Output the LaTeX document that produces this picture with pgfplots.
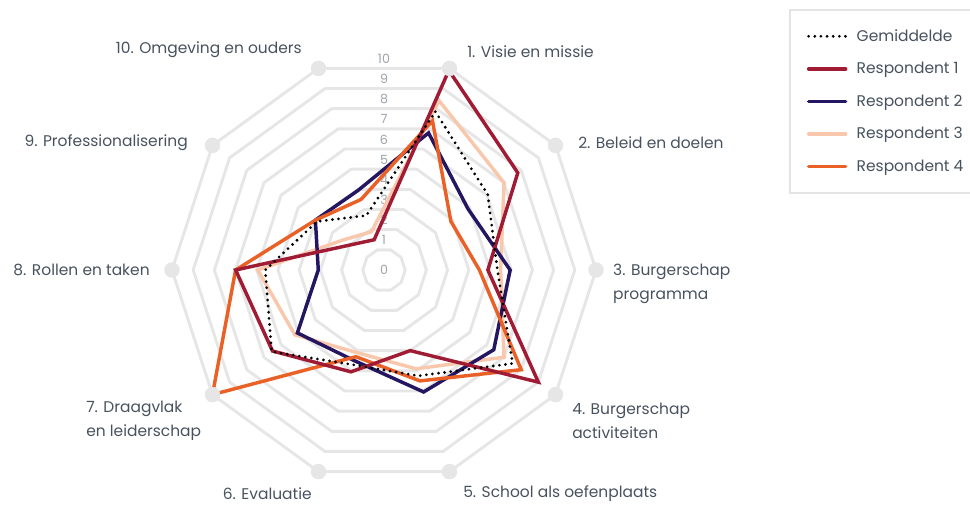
\documentclass[border=0pt]{standalone}
\usepackage{pgfplots}
\usepackage{pgfplotstable}
\pgfplotsset{compat=1.18}
\usepackage{fontspec}
\setmainfont{Poppins}
\definecolor{r1}{RGB}{160,27,52}
\definecolor{r2}{RGB}{36,22,96}
\definecolor{r3}{RGB}{249,199,172}
\definecolor{r4}{RGB}{234,97,40}
\definecolor{ring}{RGB}{230,230,230}
\definecolor{txt}{RGB}{72,82,94}
\definecolor{scl}{RGB}{158,164,170}
\definecolor{lgd}{RGB}{228,228,228}

\pgfplotstableread{
ang avg  r1   r2   r3   r4
72  7.85 9.9  6.8  8.4  7.4
36  6.05 7.8  4.9  7.0  3.9
0   5.35 4.9  5.95 5.5  4.5
-36 7.5  9.0  6.4  7.0  8.0
-72 5.25 4.0  6.05 4.9  5.5
-108 4.7 5.05 4.5  4.1  4.3
-144 6.55 6.5 5.05 5.2  10.0
180 5.6  7.0  3.1  5.95 7.0
144 3.9  2.0  4.0  2.4  4.0
108 2.7  1.5  3.95 1.9  3.5
}\data

\pgfplotsset{
  avgst/.style={black, line width=2.3pt, dash pattern=on 0pt off 4.6pt, line cap=round},
  r1st/.style={r1, line width=2.6pt},
  r2st/.style={r2, line width=2.6pt},
  r3st/.style={r3, line width=2.6pt},
  r4st/.style={r4, line width=2.6pt},
}
\newcommand{\lab}{\fontsize{11.6}{18}\selectfont}

\begin{document}
\begin{tikzpicture}
\begin{axis}[
  x=15.9pt, y=15.9pt,
  xmin=-18.113, xmax=27.642, ymin=-11.038, ymax=12.736,
  hide axis, clip=false,
  legend style={at={(axis cs:19.10,12.31)}, anchor=north west, draw=lgd, line width=1.5pt,
    inner xsep=12.75pt, inner ysep=7.5pt, font=\lab, text=txt, row sep=0pt, column sep=0pt,
    nodes={minimum height=24.4pt, inner xsep=7pt, inner ysep=0pt, text=txt}},
  legend cell align=left,
  legend image code/.code={\draw[#1, line cap=round] (0pt,0pt) -- (27.75pt,0pt);},
]
\coordinate (bl) at (rel axis cs:0,0);
\coordinate (tr) at (rel axis cs:1,1);

% grid rings
\pgfplotsinvokeforeach{1,...,10}{
  \addplot[ring, line width=2.2pt, line join=round, data cs=polar, forget plot]
    coordinates {(0,#1)(36,#1)(72,#1)(108,#1)(144,#1)(180,#1)(216,#1)(252,#1)(288,#1)(324,#1)} -- cycle;
}
\addplot[only marks, mark=*, mark size=5.6pt, ring, data cs=polar, forget plot]
  coordinates {(0,10)(36,10)(72,10)(108,10)(144,10)(180,10)(216,10)(252,10)(288,10)(324,10)};

% scale labels
\node[scl, font=\fontsize{9.5}{10}\selectfont] at (axis cs:0,0) {0};
\pgfplotsinvokeforeach{1,...,10}{
  \node[scl, font=\fontsize{9.5}{10}\selectfont] at (axis cs:0,{(30+20.1*(#1-1))/21.2}) {#1};
}

% legend images
\addlegendimage{avgst}
\addlegendentry{Gemiddelde}
\addlegendimage{r1st}
\addlegendentry{Respondent 1}
\addlegendimage{r2st}
\addlegendentry{Respondent 2}
\addlegendimage{r3st}
\addlegendentry{Respondent 3}
\addlegendimage{r4st}
\addlegendentry{Respondent 4}

% series
\addplot[r3st, data cs=polar, forget plot] table[x=ang, y=r3] {\data} -- cycle;
\addplot[r2st, data cs=polar, forget plot] table[x=ang, y=r2] {\data} -- cycle;
\addplot[r4st, data cs=polar, forget plot] table[x=ang, y=r4] {\data} -- cycle;
\addplot[r1st, data cs=polar, forget plot] table[x=ang, y=r1] {\data} -- cycle;
\addplot[avgst, data cs=polar, forget plot] table[x=ang, y=avg] {\data} -- cycle;

% category labels
\begin{scope}[every node/.style={font=\lab, text=txt, inner sep=0pt}]
\node[anchor=west] at (axis cs:3.915,10.283) {1. Visie en missie};
\node[anchor=west] at (axis cs:9.151,5.991) {2. Beleid en doelen};
\node[anchor=west, align=left] at (axis cs:10.80,-0.66) {3. Burgerschap\\programma};
\node[anchor=west, align=left] at (axis cs:8.868,-7.12) {4. Burgerschap\\activiteiten};
\node[anchor=west] at (axis cs:3.726,-10.566) {5. School als oefenplaats};
\node[anchor=east] at (axis cs:-3.396,-10.566) {6. Evaluatie};
\node[anchor=west, align=left] at (axis cs:-14.057,-7.12) {7. Draagvlak\\en leiderschap};
\node[anchor=east] at (axis cs:-11.04,0) {8. Rollen en taken};
\node[anchor=east] at (axis cs:-9.245,5.991) {9. Professionalisering};
\node[anchor=east] at (axis cs:-3.868,10.377) {10. Omgeving en ouders};
\end{scope}
\end{axis}
\pgfresetboundingbox
\path (bl) rectangle (tr);
\end{tikzpicture}
\end{document}
